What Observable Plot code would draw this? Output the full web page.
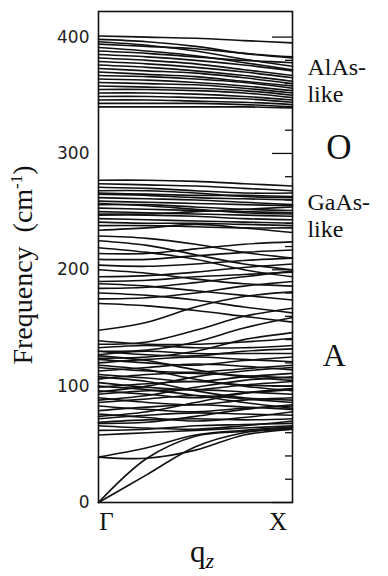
<!DOCTYPE html>
<html>
<head>
<meta charset="utf-8">
<script src="https://cdn.jsdelivr.net/npm/d3@7"></script>
<script src="https://cdn.jsdelivr.net/npm/@observablehq/plot@0.6"></script>
<style>
  html, body { margin: 0; padding: 0; background: #fff; }
  #chart svg { display: block; }
</style>
</head>
<body>
<div id="chart"></div>
<script>
// wave-vector sample points from Γ (0) to X (1)
const q = [0, 0.25, 0.5, 0.75, 1];

// acoustic and folded-acoustic branches (cm-1)
const acousticBands = [
  [0, 24, 48, 60, 64],
  [0, 38, 57, 61, 63],
  [39, 38, 45, 58, 63],
  [39, 47, 58, 62, 65]
];

// dense folded-acoustic region ("A")
const lowBands = [
  [58, 60, 62, 64, 66],
  [62, 63, 66, 67, 68],
  [66, 64, 63, 66, 70],
  [69, 71, 72, 71, 72],
  [72, 75, 77, 76, 75],
  [76, 73, 70, 73, 78],
  [79, 82, 84, 82, 80],
  [83, 80, 78, 81, 83],
  [86, 89, 92, 89, 86],
  [90, 86, 84, 88, 90],
  [93, 96, 97, 95, 93],
  [96, 93, 90, 94, 97],
  [99, 102, 104, 101, 100],
  [103, 99, 97, 101, 104],
  [106, 110, 111, 109, 107],
  [110, 107, 104, 108, 111],
  [113, 116, 119, 117, 114],
  [116, 113, 112, 115, 118],
  [120, 123, 125, 123, 121],
  [123, 120, 118, 122, 125],
  [127, 130, 128, 128, 128],
  [130, 127, 126, 130, 132],
  [133, 135, 133, 133, 135],
  [139, 136, 136, 138, 141],
  [88, 92, 99, 105, 108],
  [108, 104, 96, 90, 88],
  [118, 114, 106, 100, 96],
  [74, 78, 86, 94, 98],
  [126, 122, 114, 108, 105],
  [95, 100, 108, 113, 116],
  [68, 69, 74, 80, 84],
  [100, 97, 92, 86, 81]
];

// sparse crossing branches between the acoustic and GaAs-like bands
const midBands = [
  [148, 155, 168, 177, 181],
  [136, 138, 148, 160, 167],
  [130, 131, 138, 150, 159],
  [124, 125, 130, 140, 146],
  [234, 236, 239, 236, 232],
  [229, 227, 222, 215, 210],
  [225, 221, 213, 205, 200],
  [219, 215, 209, 200, 194],
  [214, 214, 218, 222, 224],
  [209, 209, 212, 215, 217],
  [204, 203, 205, 208, 210],
  [200, 197, 192, 188, 186],
  [194, 195, 198, 202, 205],
  [190, 191, 194, 196, 198],
  [188, 186, 182, 178, 174],
  [184, 185, 189, 194, 199],
  [180, 178, 174, 168, 163],
  [175, 176, 180, 186, 190],
  [171, 169, 165, 160, 155]
];

// GaAs-like optical bands
const gaasBands = [
  [277, 277, 276, 274, 272],
  [274, 273, 272, 270, 268],
  [271, 270, 268, 266, 266],
  [268, 268, 266, 263, 262],
  [266, 265, 264, 264, 263],
  [265, 264, 262, 261, 260],
  [262, 261, 260, 258, 256],
  [259, 258, 257, 256, 255],
  [257, 255, 252, 249, 248],
  [256, 256, 254, 252, 251],
  [253, 252, 251, 250, 249],
  [250, 249, 248, 247, 246],
  [248, 248, 250, 252, 254],
  [247, 247, 246, 244, 243],
  [244, 243, 242, 241, 240],
  [241, 240, 240, 239, 238],
  [238, 238, 237, 236, 236]
];

// AlAs-like optical bands
const alasBands = [
  [401, 400, 399, 397, 395],
  [398, 396, 392, 386, 382],
  [396, 393, 388, 381, 375],
  [394, 392, 390, 386, 383],
  [391, 388, 384, 378, 372],
  [388, 386, 383, 380, 378],
  [385, 383, 380, 376, 371],
  [382, 380, 377, 372, 367],
  [379, 377, 374, 370, 365],
  [376, 374, 371, 367, 362],
  [373, 371, 369, 365, 360],
  [370, 368, 366, 362, 358],
  [367, 366, 364, 361, 356],
  [364, 363, 361, 358, 354],
  [361, 360, 359, 356, 352],
  [358, 357, 356, 354, 350],
  [355, 355, 354, 352, 348],
  [352, 352, 351, 349, 346],
  [349, 349, 348, 347, 344],
  [346, 346, 345, 344, 342],
  [343, 343, 343, 342, 340],
  [340, 340, 340, 340, 339]
];

const yTicks = [0, 100, 200, 300, 400];
const yMinorTicks = [20, 40, 60, 80, 120, 140, 160, 180, 220, 240, 260, 280, 320, 340, 360, 380];

const xLabels = ["Γ", "X"];
const xLabelQ = [0.041, 0.925];

const regionLabels = ["AlAs-\nlike", "O", "GaAs-\nlike", "A"];
const regionLabelF = [369.7, 295.4, 253.7, 117];
const regionLabelQ = [1.077, 1.239, 1.077, 1.216];

// build the long table the line mark needs
const allBands = [...acousticBands, ...lowBands, ...midBands, ...gaasBands, ...alasBands];
const rows = [];
allBands.forEach((band, i) => band.forEach((f, j) => rows.push({band: i, q: q[j], f})));

const serif = "'Liberation Serif', 'Times New Roman', serif";
const bigLabels = regionLabels.map((t, i) => ({t, f: regionLabelF[i], q: regionLabelQ[i]}));

const chart = Plot.plot({
  width: 388,
  height: 576,
  marginLeft: 98,
  marginRight: 96,
  marginTop: 11,
  marginBottom: 74,
  x: {domain: [0, 1], axis: null},
  y: {domain: [0, 422], axis: null},
  style: {background: "#fff", color: "#111"},
  marks: [
    Plot.line(rows, {x: "q", y: "f", z: "band", curve: "catmull-rom", stroke: "#111", strokeWidth: 1.6}),
    Plot.frame({stroke: "#111", strokeWidth: 1.6}),
    Plot.axisY({ticks: yTicks, label: null, tickSize: 0, tickPadding: 9, fontSize: 17, fontFamily: "DejaVu Sans", fill: "#222", tickFormat: d => String(d)}),
    Plot.axisY({anchor: "right", label: null, ticks: yTicks, tickSize: -21, tickFormat: () => "", strokeWidth: 1.3, stroke: "#111"}),
    Plot.axisY({anchor: "right", label: null, ticks: yMinorTicks, tickSize: -8, tickFormat: () => "", strokeWidth: 1.3, stroke: "#111"}),
    Plot.text(xLabels, {x: (d, i) => xLabelQ[i], y: () => 0, text: d => d, dy: 27, lineAnchor: "bottom", fontSize: 25, fontFamily: serif, fill: "#111"}),
    Plot.text(bigLabels.filter(d => d.t.length > 1), {x: "q", y: "f", text: "t", textAnchor: "start", lineAnchor: "top", dy: -17, lineHeight: 1.14, fontSize: 24, fontFamily: serif, fill: "#111"}),
    Plot.text(bigLabels.filter(d => d.t === "O"), {x: "q", y: "f", text: "t", lineAnchor: "bottom", fontSize: 35, fontFamily: serif, fill: "#111"}),
    Plot.text(bigLabels.filter(d => d.t === "A"), {x: "q", y: "f", text: "t", lineAnchor: "bottom", fontSize: 32, fontFamily: serif, fill: "#111"})
  ]
});

document.getElementById("chart").appendChild(chart);

// axis titles with super/subscripts
const svg = d3.select(chart);
const yt = svg.append("text")
  .attr("transform", "translate(32,265) rotate(-90)")
  .attr("text-anchor", "middle")
  .attr("font-family", serif)
  .attr("font-size", 28)
  .attr("fill", "#111");
yt.append("tspan").text("Frequency  (cm");
yt.append("tspan").attr("font-size", 17).attr("dy", -10).text("-1");
yt.append("tspan").attr("dy", 10).text(")");

const xt = svg.append("text")
  .attr("x", 202)
  .attr("y", 562)
  .attr("text-anchor", "middle")
  .attr("font-family", serif)
  .attr("font-size", 31)
  .attr("fill", "#111");
xt.append("tspan").text("q");
xt.append("tspan").attr("font-size", 22).attr("font-style", "italic").attr("dy", 6).text("z");
</script>
</body>
</html>
